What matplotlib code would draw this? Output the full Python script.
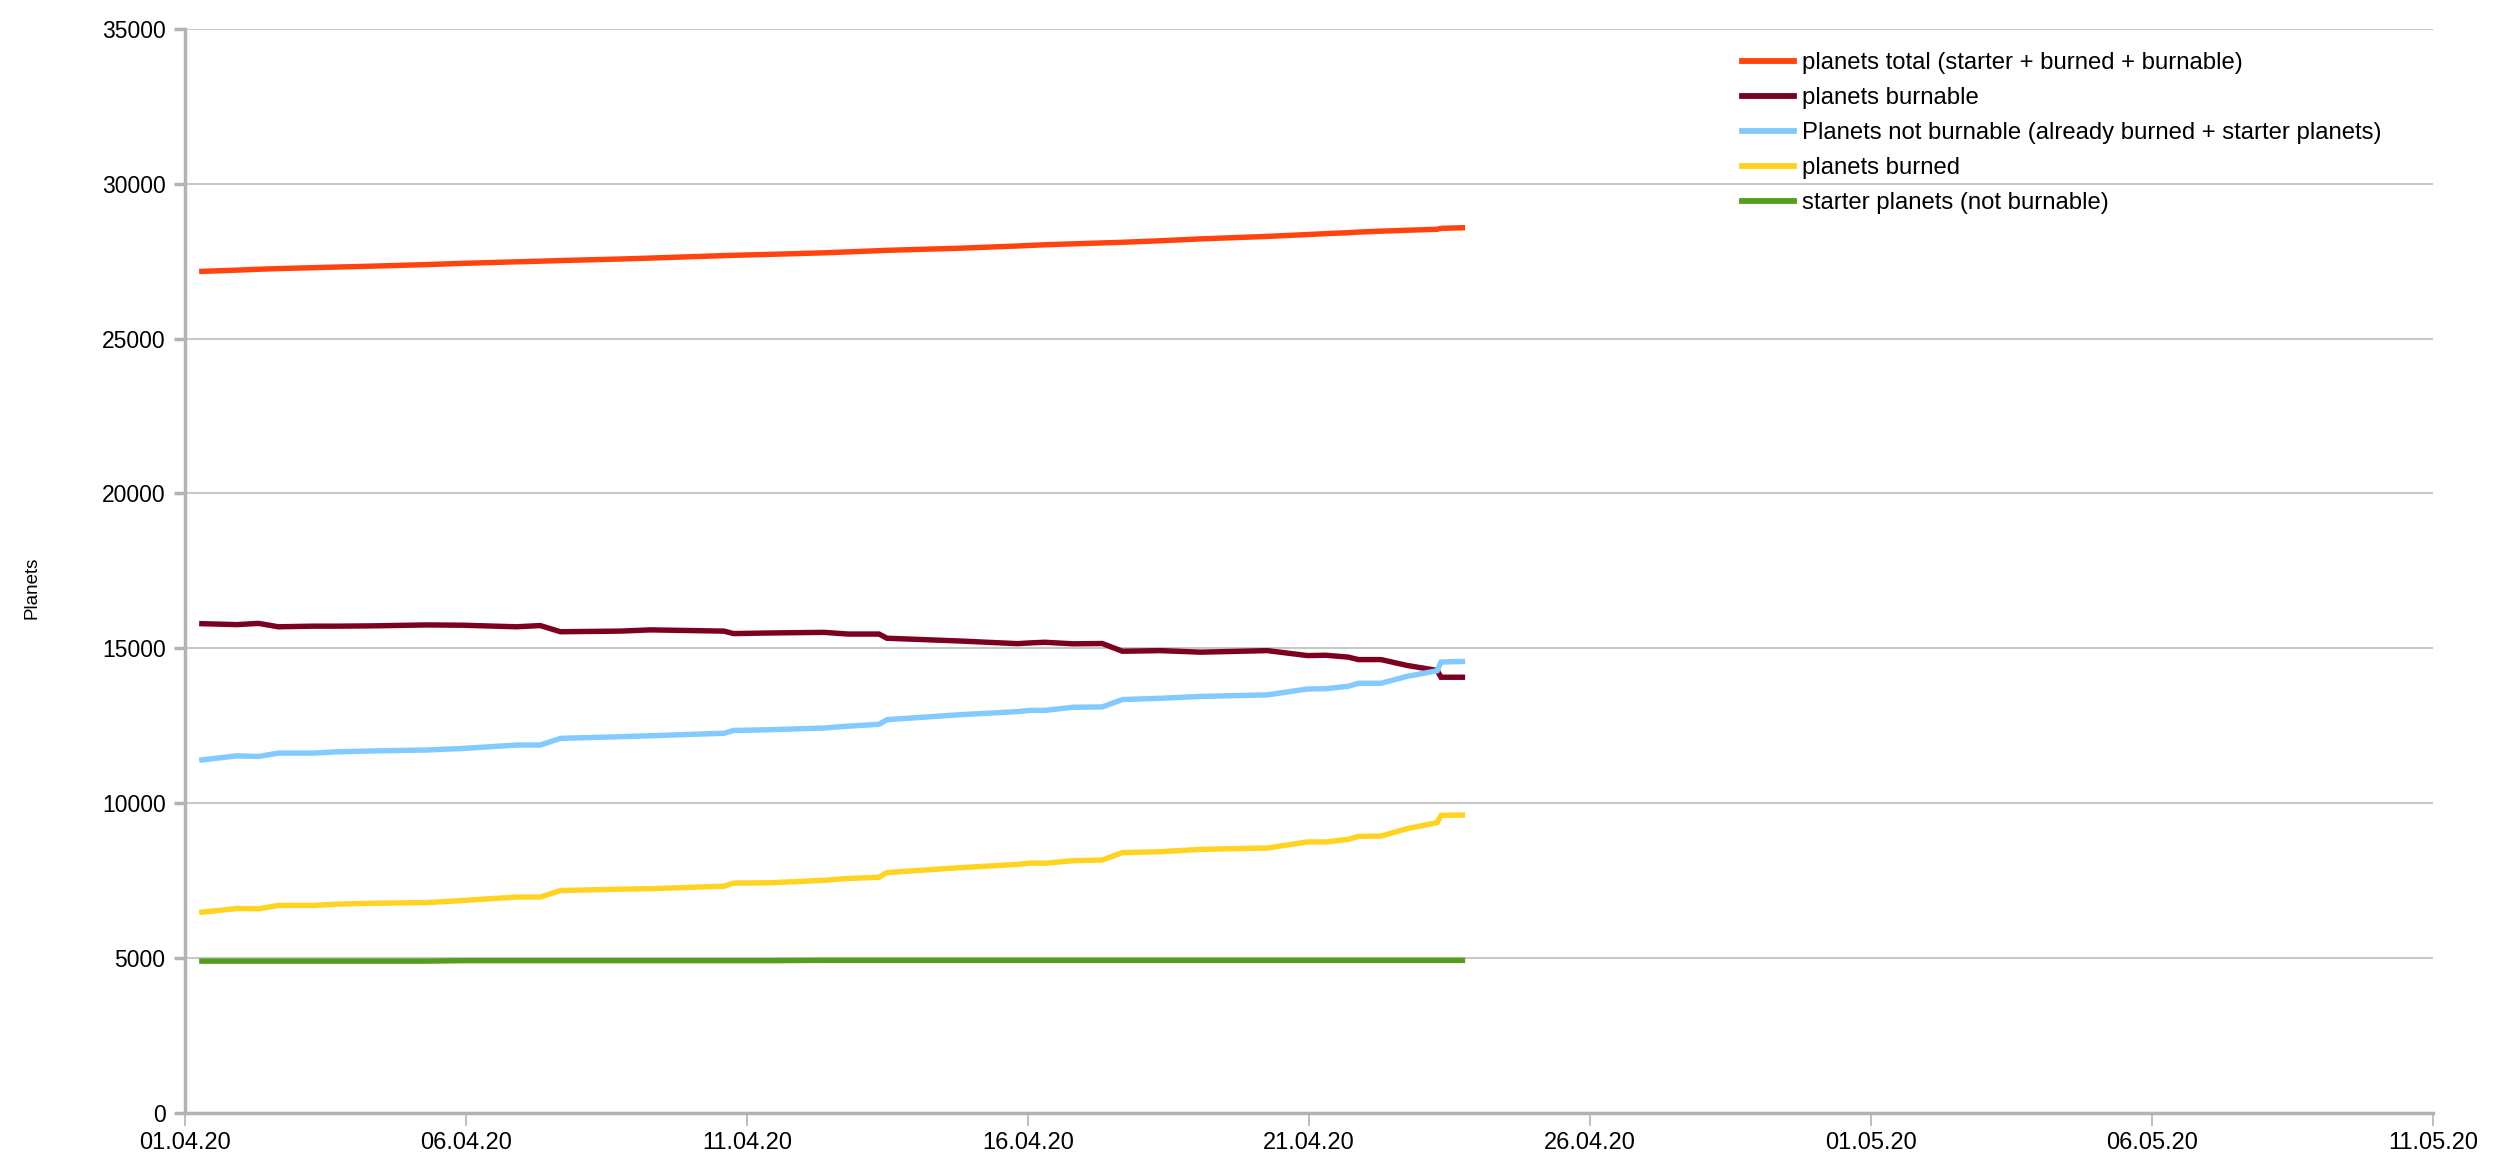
import matplotlib
matplotlib.use("Agg")
import matplotlib.pyplot as plt
import matplotlib.dates as mdates
import numpy as np
from datetime import datetime, timedelta

plt.rcParams['font.family'] = ['Liberation Sans', 'DejaVu Sans']

# day offsets from 01.04.20 00:00 (fraction of days)
day_offsets = [0.30, 0.92, 1.31, 1.66, 2.28, 2.70, 3.35, 4.30, 4.95, 5.90,
               6.32, 6.68, 7.75, 8.28, 9.59, 9.76, 10.40, 11.37, 11.80, 12.35,
               12.49, 13.80, 14.81, 15.05, 15.30, 15.80, 16.32, 16.68, 17.36, 18.07,
               19.26, 19.97, 20.30, 20.70, 20.88, 21.28, 21.75, 22.28, 22.35, 22.73]

planets_total = [27170, 27210, 27240, 27260, 27290, 27310, 27340, 27390, 27430, 27480,
                 27500, 27520, 27570, 27600, 27680, 27690, 27720, 27770, 27800, 27840,
                 27850, 27920, 27990, 28010, 28030, 28060, 28090, 28110, 28160, 28220,
                 28300, 28360, 28390, 28420, 28440, 28470, 28500, 28530, 28560, 28580]

planets_burnable = [15790, 15760, 15800, 15690, 15710, 15710, 15720, 15750, 15740, 15690,
                    15730, 15530, 15550, 15590, 15550, 15470, 15490, 15510, 15455, 15455,
                    15320, 15230, 15145, 15170, 15190, 15140, 15150, 14900, 14920, 14870,
                    14920, 14760, 14770, 14710, 14630, 14630, 14440, 14280, 14060, 14060]

planets_not_burnable = [11390, 11520, 11500, 11610, 11610, 11650, 11680, 11710, 11760, 11870,
                        11870, 12085, 12140, 12170, 12250, 12340, 12365, 12420, 12480, 12540,
                        12690, 12850, 12950, 12990, 12990, 13090, 13100, 13340, 13380, 13440,
                        13490, 13680, 13690, 13770, 13865, 13865, 14090, 14270, 14550, 14570]

planets_burned = [6470, 6590, 6580, 6690, 6690, 6730, 6760, 6780, 6850, 6960,
                  6960, 7170, 7215, 7230, 7310, 7410, 7420, 7500, 7560, 7600,
                  7750, 7910, 8015, 8060, 8050, 8135, 8155, 8395, 8425, 8500,
                  8545, 8740, 8740, 8825, 8920, 8930, 9170, 9365, 9600, 9610]

starter_planets = [4890, 4890, 4890, 4890, 4890, 4890, 4890, 4890, 4905, 4905,
                   4905, 4905, 4905, 4905, 4905, 4905, 4905, 4915, 4915, 4915,
                   4915, 4915, 4915, 4915, 4915, 4915, 4915, 4915, 4915, 4915,
                   4915, 4915, 4915, 4915, 4915, 4915, 4915, 4915, 4915, 4915]

labels = ["planets total (starter + burned + burnable)",
          "planets burnable",
          "Planets not burnable (already burned + starter planets)",
          "planets burned",
          "starter planets (not burnable)"]
colors = ["#ff420e", "#7e0021", "#83caff", "#ffd320", "#579d1c"]

start = datetime(2020, 4, 1)
dates = [start + timedelta(days=d) for d in day_offsets]

fig = plt.figure(figsize=(25.03, 11.62), dpi=100)
ax = fig.add_axes([185/2503, 1 - 1112.5/1162, (2433-185)/2503, (1112.5-29)/1162])

series = [planets_total, planets_burnable, planets_not_burnable, planets_burned, starter_planets]
for vals, lab, col in zip(series, labels, colors):
    ax.plot(dates, vals, color=col, lw=3.9, label=lab, solid_joinstyle='miter')

ax.set_ylim(0, 35000)
ax.set_yticks(np.arange(0, 35001, 5000))
ax.set_xlim(start, start + timedelta(days=40))
ax.set_xticks([start + timedelta(days=5*i) for i in range(9)])
ax.xaxis.set_major_formatter(mdates.DateFormatter('%d.%m.%y'))

ax.grid(axis='y', color='#c8c8c8', lw=1.5)
ax.set_axisbelow(True)
for s in ['top', 'right']:
    ax.spines[s].set_visible(False)
for s in ['left', 'bottom']:
    ax.spines[s].set_color('#b3b3b3')
    ax.spines[s].set_linewidth(2.5)
ax.tick_params(axis='y', length=8, width=2.5, color='#b3b3b3', labelsize=16.5, pad=6)
ax.tick_params(axis='x', length=9, width=1.2, color='#b3b3b3', labelsize=17, pad=5)

fig.text(32/2503, 1 - 588/1162, "Planets", rotation=90, ha='center', va='center', fontsize=13.5)

leg = ax.legend(loc='upper left', bbox_to_anchor=(1730/2503, 1 - 40/1162),
                bbox_transform=fig.transFigure, frameon=False, fontsize=17.2,
                handlelength=2.2, handletextpad=0.33, labelspacing=0.55, borderpad=0)
for line in leg.get_lines():
    line.set_linewidth(4.2)

fig.savefig("out.png", dpi=100)
